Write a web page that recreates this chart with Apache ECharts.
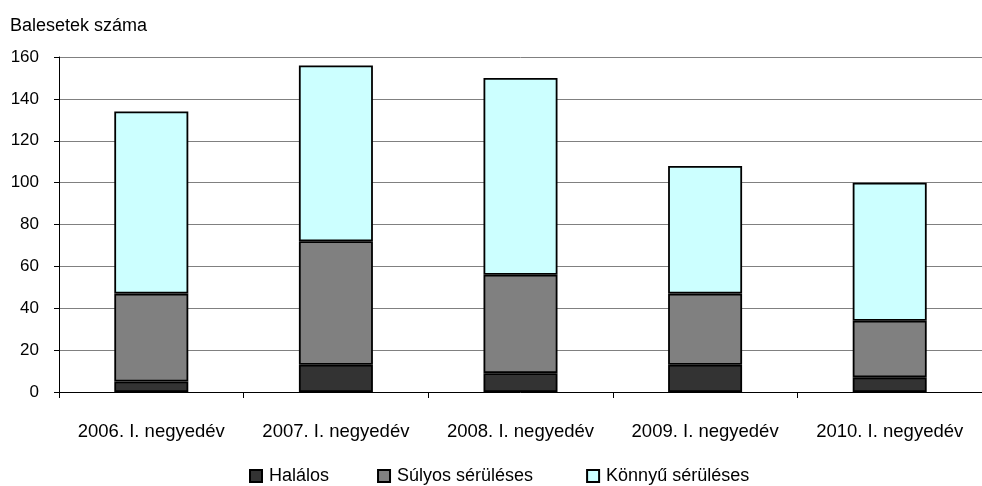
<!DOCTYPE html>
<html>
<head>
<meta charset="utf-8">
<script src="https://cdn.jsdelivr.net/npm/echarts@6/dist/echarts.min.js"></script>
<style>
  html, body { margin: 0; padding: 0; background: #fff; }
  #chart { width: 982px; height: 486px; }
</style>
</head>
<body>
<div id="chart"></div>
<script>
// kategóriák (negyedévek)
var categories = ['2006. I. negyedév', '2007. I. negyedév', '2008. I. negyedév', '2009. I. negyedév', '2010. I. negyedév'];
// balesetek száma sérülés szerint
var halalos = [5, 13, 9, 13, 7];
var sulyos = [42, 59, 47, 34, 27];
var konnyu = [87, 84, 94, 61, 66];
var seriesNames = ['Halálos', 'Súlyos sérüléses', 'Könnyű sérüléses'];
var yTicks = { min: 0, max: 160, interval: 20 };

var font = "'Liberation Sans', Arial, sans-serif";
var colors = ['#333333', '#808080', '#CCFFFF'];

function makeSeries (name, data, idx) {
  return {
    name: name,
    type: 'bar',
    stack: 'total',
    data: data,
    barWidth: 74,
    itemStyle: {
      color: colors[idx],
      borderColor: '#000',
      borderWidth: 1.8,
    },
  };
}

var chart = echarts.init(document.getElementById('chart'), null, { renderer: 'canvas' });
var option = {
  animation: false,
  title: {
    text: 'Balesetek száma',
    left: 5,
    top: 12,
    textStyle: { fontFamily: font, fontSize: 18, fontWeight: 'normal', color: '#000' },
  },
  legend: {
    data: seriesNames,
    // a középső felirat után kicsit nagyobb a hézag
    formatter: function (name) {
      return name === seriesNames[1] ? name + ' ' : name;
    },
    left: 244,
    top: 462,
    icon: 'rect',
    itemWidth: 12,
    itemHeight: 12,
    itemGap: 48,
    textStyle: { fontFamily: font, fontSize: 18, color: '#000', padding: [0, 0, 0, 2] },
  },
  grid: {
    left: 59,
    right: -12,
    top: 57,
    bottom: 94,
  },
  xAxis: {
    type: 'category',
    data: categories,
    boundaryGap: true,
    axisLine: { lineStyle: { color: '#000', width: 1 } },
    axisTick: { show: true, interval: 0, length: 6, lineStyle: { color: '#000' } },
    axisLabel: { interval: 0, fontFamily: font, fontSize: 18.5, color: '#000', margin: 30 },
  },
  yAxis: {
    type: 'value',
    min: yTicks.min,
    max: yTicks.max,
    interval: yTicks.interval,
    axisLine: { show: true, lineStyle: { color: '#000', width: 1 } },
    axisTick: { show: true, length: 5, lineStyle: { color: '#000' } },
    axisLabel: { fontFamily: font, fontSize: 17, color: '#000', margin: 20 },
    splitLine: { lineStyle: { color: '#808080', width: 1 } },
  },
  series: [
    makeSeries(seriesNames[0], halalos, 0),
    makeSeries(seriesNames[1], sulyos, 1),
    makeSeries(seriesNames[2], konnyu, 2),
  ],
};
chart.setOption(option);
</script>
</body>
</html>
